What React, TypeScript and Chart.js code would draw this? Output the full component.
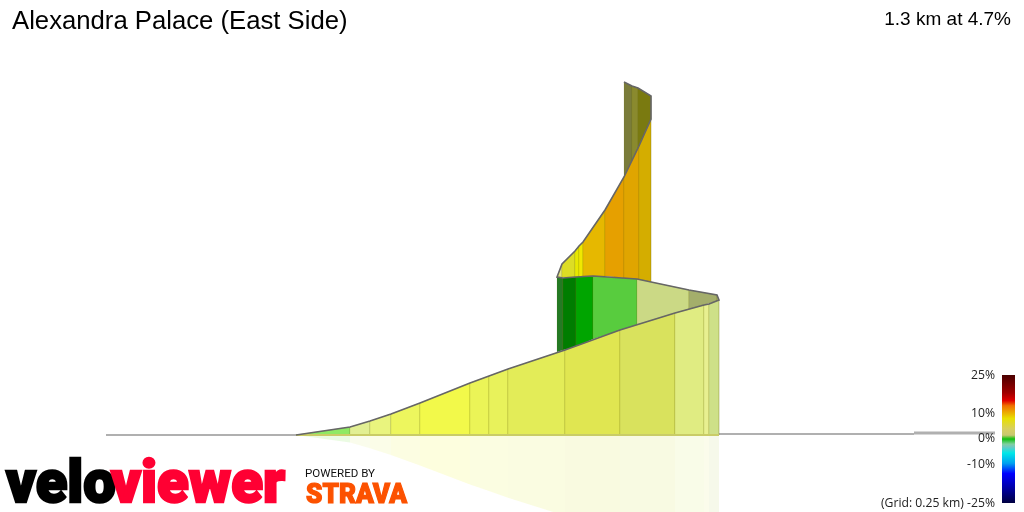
import { useEffect, useRef } from "react";
import { Chart, registerables } from "chart.js";

Chart.register(...registerables);

// front ribbon, the long climb
const frontDist = [190, 244, 264, 285, 314, 364, 383, 402, 459, 514, 569, 598, 603, 613];
const frontTop = [0, 8, 14, 21, 32, 52, 59, 66, 85, 105, 122, 130, 131, 135];
const frontBase = [0, 0, 0, 0, 0, 0, 0, 0, 0, 0, 0, 0, 0, 0];
const frontColors = ["#8FE964", "#E2EF93", "#E9F47E", "#EDF65E", "#F2F94A", "#EBF457", "#E8F25B", "#E3EC58", "#E0E651", "#D9E25D", "#E0EC82", "#E8F090", "#CEE088"];

// ribbon running back to the left after the hairpin
const backDist = [451, 457, 470, 487, 531, 583, 611, 613];
const backTop = [158, 157, 158, 159, 156, 145, 140, 135];
const backBase = [83, 85, 88, 96, 110, 126, 134, 135];
const backColors = ["#247A24", "#007D00", "#00A500", "#58CC3E", "#CBD985", "#A4AE6B", "#A4AE6B"];

// steep ribbon going right again
const upperDist = [451, 456, 469, 473, 477, 499, 518, 533, 545];
const upperTop = [158, 171, 184, 189, 193, 225, 258, 289, 316];
const upperBase = [158, 158, 158, 158, 159, 159, 157, 155, 153];
const upperColors = ["#E4E67A", "#DDDD25", "#E8E800", "#F0E800", "#E6B800", "#E6A000", "#E0A500", "#D4AD00"];

// last ribbon, seen from behind
const topDist = [518, 526, 532, 545];
const topTop = [353, 349, 347, 339];
const topBase = [258, 274, 287, 316];
const topColors = ["#7A7C3A", "#8A8A2E", "#7A7A10"];

// flat road before and after the climb
const leadDist = [0, 190];
const leadHeight = [0, 0];
const tailDist = [613, 808];
const tailHeight = [1, 1];
const tailEndDist = [808, 889];
const tailEndHeight = [2, 2];
const floorDist = [190, 613];
const floorHeight = [0, 0];

const gradeLabels = ["25%", "10%", "0%", "-10%", "(Grid: 0.25 km) -25%"];
const gradeBaselines = [379, 417, 442, 468, 507];
const barStops = [0, 0.14, 0.2, 0.24, 0.34, 0.42, 0.47, 0.5, 0.54, 0.56, 0.61, 0.69, 0.77, 0.87, 1];
const barColors = ["#4A0000", "#A00000", "#E00000", "#F07000", "#E8E000", "#D8D060", "#C8C870", "#10C010", "#80D0A0", "#70C8C0", "#00E8E8", "#00A0F0", "#0000FF", "#0000B0", "#000040"];

const reflectScale = 0.95;

function toPoints(xs: number[], ys: number[]) {
  return xs.map((x, i) => ({ x, y: ys[i] }));
}

function ribbon(dist: number[], top: number[], base: number[], colors: string[]) {
  return colors.map((color, i) => ({
    data: [
      { x: dist[i], y: top[i] },
      { x: dist[i + 1], y: top[i + 1] },
      { x: dist[i + 1], y: base[i + 1] },
      { x: dist[i], y: base[i] },
      { x: dist[i], y: top[i] },
    ],
    backgroundColor: color,
    borderColor: "rgba(110,110,20,0.13)",
    borderWidth: 1,
    fill: "shape",
  }));
}

function reflection() {
  const mirrored = frontTop.map((h) => -h * reflectScale);
  return ribbon(frontDist, frontBase, mirrored, frontColors).map((d) => ({
    ...d,
    backgroundColor: d.backgroundColor + "2E",
    borderWidth: 0,
  }));
}

function road(xs: number[], ys: number[], width: number, color = "#B0B0B0") {
  return {
    data: toPoints(xs, ys),
    borderColor: color,
    borderWidth: width,
    fill: false,
  };
}

function ridgeLine() {
  const rev = (a: number[]) => [...a].reverse();
  return {
    data: [
      ...toPoints(frontDist, frontTop),
      ...toPoints(rev(backDist), rev(backTop)),
      ...toPoints(upperDist, upperTop),
      ...toPoints(rev(topDist), rev(topTop)),
    ],
    borderColor: "#666666",
    borderWidth: 1.6,
    fill: false,
  };
}

function fitText(ctx: CanvasRenderingContext2D, text: string, x: number, y: number, width: number, outline: number) {
  const w = ctx.measureText(text).width;
  ctx.save();
  ctx.translate(x, y);
  ctx.scale(width / w, 1);
  ctx.fillText(text, 0, 0);
  if (outline) {
    ctx.strokeStyle = ctx.fillStyle;
    ctx.lineWidth = outline;
    ctx.lineJoin = "miter";
    ctx.strokeText(text, 0, 0);
  }
  ctx.restore();
}

const labelsPlugin = {
  id: "labels",
  afterDraw(chart: any) {
    const ctx = chart.ctx as CanvasRenderingContext2D;
    ctx.save();
    ctx.textBaseline = "alphabetic";

    ctx.fillStyle = "#000000";
    ctx.textAlign = "left";
    ctx.font = '25.7px "Liberation Sans"';
    ctx.fillText("Alexandra Palace (East Side)", 12, 29);
    ctx.textAlign = "right";
    ctx.font = '19px "Liberation Sans"';
    ctx.fillText("1.3 km at 4.7%", 1011, 25);

    ctx.fillStyle = "#222222";
    ctx.font = '12.2px "Open Sans"';
    gradeLabels.forEach((label, i) => ctx.fillText(label, 995, gradeBaselines[i]));

    const grad = ctx.createLinearGradient(0, 375, 0, 503);
    barStops.forEach((s, i) => grad.addColorStop(s, barColors[i]));
    ctx.fillStyle = grad;
    ctx.fillRect(1002, 375, 13, 128);

    ctx.textAlign = "left";
    ctx.font = "900 60px Roboto";
    ctx.fillStyle = "#000000";
    fitText(ctx, "velo", 6, 502, 110, 2.4);
    ctx.fillStyle = "#FF0033";
    fitText(ctx, "viewer", 111, 502, 174, 2.4);

    ctx.fillStyle = "#111111";
    ctx.font = "400 10px Roboto";
    fitText(ctx, "POWERED BY", 305, 477, 70, 0);
    ctx.fillStyle = "#FC5200";
    ctx.font = "900 27px Roboto";
    fitText(ctx, "STRAVA", 306, 503, 101, 1.2);
    ctx.restore();
  },
};

export default function App() {
  const ref = useRef<HTMLCanvasElement>(null);

  useEffect(() => {
    if (!ref.current) return;
    // datasets paint last to first, so list them back to front and flip
    const painted: any[] = [
      road(leadDist, leadHeight, 2),
      road(tailDist, tailHeight, 2),
      road(tailEndDist, tailEndHeight, 3),
      ...reflection(),
      ...ribbon(topDist, topTop, topBase, topColors),
      ...ribbon(upperDist, upperTop, upperBase, upperColors),
      ...ribbon(backDist, backTop, backBase, backColors),
      ...ribbon(frontDist, frontTop, frontBase, frontColors),
      road(floorDist, floorHeight, 2, "#C9CC66"),
      ridgeLine(),
    ];

    const chart = new Chart(ref.current, {
      type: "scatter",
      data: {
        datasets: painted.reverse().map((d) => ({ ...d, showLine: true, pointRadius: 0, tension: 0 })),
      },
      options: {
        responsive: false,
        animation: false,
        devicePixelRatio: 1,
        layout: { padding: 0 },
        events: [],
        scales: {
          x: { type: "linear", min: -106, max: 918, display: false },
          y: { type: "linear", min: -77, max: 435, display: false },
        },
        plugins: {
          legend: { display: false },
          tooltip: { enabled: false },
        },
      },
      plugins: [labelsPlugin],
    } as any);

    return () => chart.destroy();
  }, []);

  return (
    <div style={{ position: "absolute", left: 0, top: 0, width: 1024, height: 512, background: "#ffffff" }}>
      <canvas ref={ref} width={1024} height={512} style={{ display: "block" }} />
    </div>
  );
}
